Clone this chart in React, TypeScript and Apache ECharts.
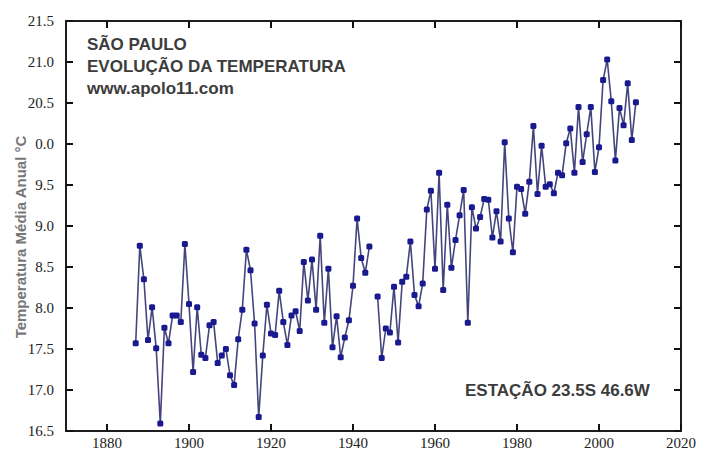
import React, { useEffect, useRef } from "react";
import * as echarts from "echarts";

const startYear = 1887;
// Annual mean temperature, 1887..2009 (null = missing year 1945)
const temps: (number | null)[] = [
  17.57, 18.76, 18.35, 17.61, 18.01, 17.51, 16.59, 17.76, 17.57, 17.91,
  17.91, 17.83, 18.78, 18.05, 17.22, 18.01, 17.43, 17.39, 17.79, 17.83,
  17.33, 17.42, 17.5, 17.18, 17.06, 17.62, 17.98, 18.71, 18.46, 17.81,
  16.67, 17.42, 18.04, 17.69, 17.67, 18.21, 17.83, 17.55, 17.91, 17.96,
  17.72, 18.56, 18.09, 18.59, 17.98, 18.88, 17.82, 18.48, 17.52, 17.9,
  17.4, 17.64, 17.85, 18.27, 19.09, 18.61, 18.43, 18.75, null, 18.14,
  17.39, 17.75, 17.7, 18.26, 17.58, 18.32, 18.38, 18.81, 18.16, 18.02,
  18.3, 19.2, 19.43, 18.48, 19.65, 18.22, 19.26, 18.49, 18.83, 19.13,
  19.44, 17.82, 19.23, 18.97, 19.11, 19.33, 19.32, 18.86, 19.18, 18.81,
  20.02, 19.09, 18.68, 19.48, 19.45, 19.15, 19.54, 20.22, 19.39, 19.98,
  19.48, 19.51, 19.4, 19.65, 19.62, 20.01, 20.19, 19.65, 20.45, 19.78,
  20.12, 20.45, 19.66, 19.96, 20.78, 21.03, 20.52, 19.8, 20.44, 20.23,
  20.74, 20.05, 20.51,
];

const xTickValues = [1880, 1900, 1920, 1940, 1960, 1980, 2000, 2020];
const yTickLabels = ["16.5", "17.0", "17.5", "8.0", "8.5", "9.0", "9.5", "0.0", "20.5", "21.0", "21.5"];

const titleLines = ["SÃO PAULO", "EVOLUÇÃO DA TEMPERATURA", "www.apolo11.com"];
const stationText = "ESTAÇÃO 23.5S 46.6W";
const yAxisTitle = "Temperatura Média Anual °C";

const X_MIN = 1870;
const X_MAX = 2020;
const Y_MIN = 16.5;
const Y_MAX = 21.5;

export default function App() {
  const ref = useRef<HTMLDivElement>(null);

  useEffect(() => {
    if (!ref.current) return;
    const chart = echarts.init(ref.current, undefined, { renderer: "svg" });
    const data = temps.map((v, i) => [startYear + i, v]);
    const frameColor = "#1e1e1e";
    const serif = "'Liberation Serif', 'Times New Roman', serif";
    const sans = "'Liberation Sans', Arial, sans-serif";

    const axisLine = { show: true, onZero: false, lineStyle: { color: frameColor, width: 2 } };
    const tick = { show: true, inside: true, length: 7, lineStyle: { color: "#111111", width: 2 } };

    chart.setOption({
      animation: false,
      backgroundColor: "#ffffff",
      grid: { left: 66, right: 20, top: 21, bottom: 21 },
      xAxis: [
        {
          type: "value",
          min: X_MIN,
          max: X_MAX,
          position: "bottom",
          splitLine: { show: false },
          axisLine,
          axisTick: { ...tick, customValues: xTickValues },
          axisLabel: {
            show: true,
            customValues: xTickValues,
            margin: 4,
            fontFamily: serif,
            fontSize: 15,
            color: "#222",
            formatter: (v: number) => String(v),
          },
        },
        {
          type: "value",
          min: X_MIN,
          max: X_MAX,
          position: "top",
          splitLine: { show: false },
          axisLine,
          axisTick: { ...tick, customValues: xTickValues },
          axisLabel: { show: false, customValues: xTickValues },
        },
      ],
      yAxis: [
        {
          type: "value",
          min: Y_MIN,
          max: Y_MAX,
          interval: 0.5,
          position: "left",
          splitLine: { show: false },
          axisLine,
          axisTick: { ...tick },
          axisLabel: {
            margin: 12,
            fontFamily: serif,
            fontSize: 15,
            color: "#222",
            formatter: (v: number) => yTickLabels[Math.round((v - Y_MIN) / 0.5)] ?? "",
          },
        },
        {
          type: "value",
          min: Y_MIN,
          max: Y_MAX,
          interval: 0.5,
          position: "right",
          splitLine: { show: false },
          axisLine,
          axisTick: { ...tick },
          axisLabel: { show: false },
        },
      ],
      series: [
        {
          type: "line",
          xAxisIndex: 0,
          yAxisIndex: 0,
          data,
          connectNulls: false,
          symbol: "roundRect",
          symbolSize: 6,
          showSymbol: true,
          lineStyle: { color: "#45457e", width: 1.6 },
          itemStyle: { color: "#1a1a90" },
          emphasis: { disabled: true },
        },
      ],
      graphic: [
        { type: "text", left: 87, top: 36, style: { text: titleLines[0], font: `bold 17px ${sans}`, fill: "#3c3c3c" } },
        { type: "text", left: 87, top: 58, style: { text: titleLines[1], font: `bold 17px ${sans}`, fill: "#3c3c3c" } },
        { type: "text", left: 87, top: 80, style: { text: titleLines[2], font: `bold 17px ${sans}`, fill: "#3c3c3c" } },
        { type: "text", left: 465, top: 382, style: { text: stationText, font: `bold 17px ${sans}`, fill: "#3c3c3c" } },
        {
          type: "text",
          x: 20,
          y: 237,
          rotation: Math.PI / 2,
          style: { text: yAxisTitle, font: `bold 15px ${sans}`, fill: "#777", align: "center", verticalAlign: "middle" },
        },
      ],
    });

    return () => chart.dispose();
  }, []);

  return (
    <div ref={ref} style={{ position: "absolute", left: 0, top: 0, width: 701, height: 452, background: "#fff" }} />
  );
}
